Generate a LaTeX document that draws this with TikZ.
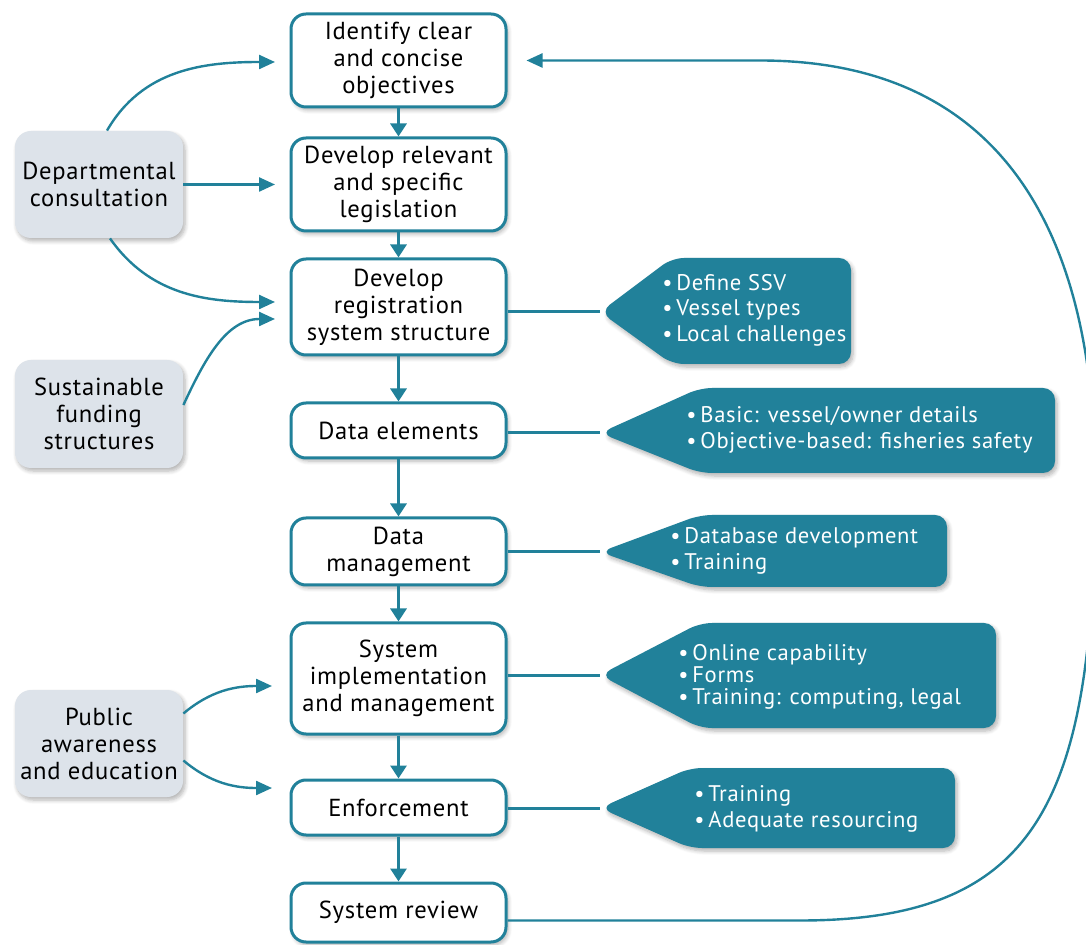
\documentclass[tikz,border=0pt]{standalone}
\usepackage{fontspec}
\setmainfont{PT Sans}[LetterSpace=3]
\usetikzlibrary{arrows.meta,shadows.blur,calc}
\definecolor{teal1}{RGB}{33,129,154}
\definecolor{side}{RGB}{221,227,234}
\begin{document}
\begin{tikzpicture}[x=0.5pt,y=-0.5pt,
  shad/.style={blur shadow={shadow blur steps=6, shadow xshift=1pt, shadow yshift=-1.5pt, shadow opacity=30}},
  mainbox/.style={draw=teal1, line width=1.5pt, fill=white, rounded corners=7.5pt, minimum width=107.5pt, inner sep=0pt, align=center, font=\fontsize{12.3}{13.5}\selectfont, shad},
  sidebox/.style={fill=side, rounded corners=8pt, minimum width=84pt, inner sep=0pt, align=center, font=\fontsize{12.3}{13.5}\selectfont, shad},
  calloutshape/.style={fill=teal1, rounded corners=6pt, shad},
  callouttext/.style={text=white, align=left, anchor=west, inner sep=0pt, font=\fontsize{11.3}{12.75}\selectfont},
  flow/.style={draw=teal1, line width=1.5pt, -{Triangle[length=6.5pt,width=8pt]}},
  feed/.style={draw=teal1, line width=1.2pt, -{Triangle[length=8pt,width=7pt]}},
  link/.style={draw=teal1, line width=1.5pt}
]
\useasboundingbox (0,0) rectangle (1086,945);

% main boxes
\node[mainbox, minimum height=46.5pt] (m1) at (398.5,60.5) {Identify clear\\and concise\\objectives};
\node[mainbox, minimum height=46.5pt] (m2) at (398.5,184.5) {Develop relevant\\and specific\\legislation};
\node[mainbox, minimum height=48pt] (m3) at (398.5,307) {Develop\\registration\\system structure};
\node[mainbox, minimum height=27.5pt] (m4) at (398.5,430.5) {Data elements};
\node[mainbox, minimum height=33.5pt] (m5) at (398.5,551.5) {Data\\management};
\node[mainbox, minimum height=55.5pt] (m6) at (398.5,678.5) {System\\implementation\\and management};
\node[mainbox, minimum height=27.5pt] (m7) at (398.5,807.5) {Enforcement};
\node[mainbox, minimum height=29.5pt] (m8) at (398.5,912.5) {System review};

\draw[flow] (m1) -- (m2);
\draw[flow] (m2) -- (m3);
\draw[flow] (m3) -- (m4);
\draw[flow] (m4) -- (m5);
\draw[flow] (m5) -- (m6);
\draw[flow] (m6) -- (m7);
\draw[flow] (m7) -- (m8);

% side boxes
\node[sidebox, minimum height=53.5pt] (d) at (99,184.5) {Departmental\\consultation};
\node[sidebox, minimum height=54pt] (s) at (99,414) {Sustainable\\funding\\structures};
\node[sidebox, minimum height=53.5pt] (p) at (99,743.5) {Public\\awareness\\and education};

\coordinate (a1) at (275,62);
\coordinate (a2) at (275,184.5);
\coordinate (a3) at (275,302);
\coordinate (a4) at (275,319);
\coordinate (a5) at (272,686);
\coordinate (a6) at (272,788);
\draw[feed] (d.north) ++(8,0) to[out=60,in=180] (a1);
\draw[feed] (d.east) -- (a2);
\draw[feed] (d.south) ++(11,0) to[out=-55,in=180] (a3);
\draw[feed] ([yshift=4.5pt]s.east) to[out=65,in=180] (a4);
\draw[feed] ([yshift=15pt]p.east) to[out=40,in=180] (a5);
\draw[feed] ([yshift=-8.5pt]p.east) to[out=-40,in=180] (a6);

% callouts
\coordinate (t1) at (600,312);
\coordinate (t2) at (600,433);
\coordinate (t3) at (600,552);
\coordinate (t4) at (600,675);
\coordinate (t5) at (600,808);
\path[calloutshape] (t1) -- (672,258) -- (851,258) -- (851,364) -- (672,364) -- cycle;
\path[calloutshape] (t2) -- (700,388) -- (1055,388) -- (1055,473) -- (700,473) -- cycle;
\path[calloutshape] (t3) -- (700,515) -- (947,515) -- (947,587) -- (700,587) -- cycle;
\path[calloutshape] (t4) -- (700,623) -- (996,623) -- (996,728) -- (700,728) -- cycle;
\path[calloutshape] (t5) -- (690,768) -- (955,768) -- (955,848) -- (690,848) -- cycle;

\node[callouttext] (c1) at (662,310) {•\,Define SSV\\•\,Vessel types\\•\,Local challenges};
\node[callouttext] (c2) at (686,430) {•\,Basic: vessel/owner details\\•\,Objective-based: fisheries safety};
\node[callouttext] (c3) at (670,551) {•\,Database development\\•\,Training};
\node[callouttext, font=\fontsize{11.3}{11}\selectfont] (c4) at (678,677) {•\,Online capability\\•\,Forms\\•\,Training: computing, legal};
\node[callouttext] (c5) at (694,809) {•\,Training\\•\,Adequate resourcing};

\draw[link] (m3.east |- t1) -- (t1);
\draw[link] (m4.east |- t2) -- (t2);
\draw[link] (m5.east |- t3) -- (t3);
\draw[link] (m6.east |- t4) -- (t4);
\draw[link] (m7.east |- t5) -- (t5);

% feedback loop
\draw[feed] ([yshift=-4pt]m8.east) -- (800,920.5) .. controls (1040,920.5) and (1095,800) .. (1095,480) .. controls (1095,230) and (1000,60.5) .. (760,60.5) -- ([xshift=9.5pt]m1.east);
\end{tikzpicture}
\end{document}
